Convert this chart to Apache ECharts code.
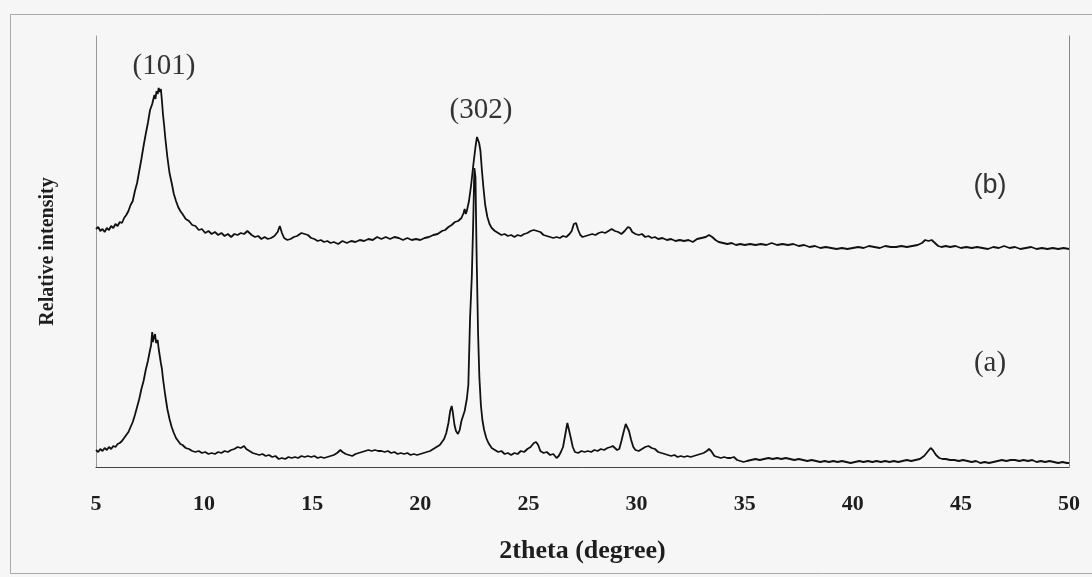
<!DOCTYPE html>
<html>
<head>
<meta charset="utf-8">
<script src="https://cdn.jsdelivr.net/npm/echarts@6/dist/echarts.min.js"></script>
<style>html,body{margin:0;padding:0;background:#f6f6f6;}#c{width:1092px;height:577px;}</style>
</head>
<body>
<div id="c"></div>
<script>
// [2theta (degree), relative intensity (arbitrary units)]
var patternB = [[5.0,238],[5.1,240],[5.2,236],[5.3,238],[5.4,235],[5.5,239],[5.6,237],[5.7,241],[5.8,239],[5.9,243],[6.0,241],[6.1,245],[6.2,244],[6.3,249],[6.4,252],[6.5,256],[6.6,262],[6.7,266],[6.8,276],[6.9,284],[7.0,296],[7.1,308],[7.2,321],[7.3,333],[7.4,344],[7.5,357],[7.6,363],[7.7,372],[7.75,368],[7.8,376],[7.85,373],[7.9,379],[7.95,375],[8.0,378],[8.05,366],[8.1,352],[8.15,342],[8.2,330],[8.3,310],[8.4,294],[8.5,284],[8.6,273],[8.7,266],[8.8,260],[8.9,256],[9.0,253],[9.15,248],[9.3,246],[9.45,242],[9.6,241],[9.75,237],[9.9,238],[10.05,234],[10.2,236],[10.35,233],[10.5,235],[10.65,232],[10.8,234],[10.95,231],[11.1,233],[11.25,230],[11.4,233],[11.55,232],[11.7,234],[11.85,233],[12.0,236],[12.1,234],[12.2,232],[12.35,230],[12.5,231],[12.65,228],[12.8,230],[12.95,228],[13.1,229],[13.25,231],[13.4,235],[13.5,241],[13.6,234],[13.7,229],[13.85,227],[14.0,228],[14.15,230],[14.3,231],[14.5,234],[14.65,233],[14.8,232],[14.95,229],[15.1,228],[15.25,226],[15.4,227],[15.55,225],[15.7,226],[15.85,224],[16.0,225],[16.2,223],[16.4,226],[16.6,224],[16.8,226],[17.0,225],[17.2,227],[17.4,226],[17.6,228],[17.8,227],[18.0,230],[18.2,228],[18.4,230],[18.6,228],[18.8,230],[19.0,229],[19.2,227],[19.4,229],[19.6,227],[19.8,228],[20.0,227],[20.2,229],[20.4,230],[20.6,232],[20.8,233],[21.0,236],[21.15,237],[21.3,240],[21.45,242],[21.6,245],[21.75,246],[21.9,249],[22.0,254],[22.05,258],[22.1,253],[22.15,256],[22.25,266],[22.35,282],[22.45,302],[22.55,320],[22.62,330],[22.68,331],[22.72,324],[22.78,316],[22.85,296],[22.92,279],[23.0,262],[23.1,250],[23.2,243],[23.3,239],[23.45,236],[23.6,234],[23.75,232],[23.9,233],[24.05,231],[24.2,232],[24.35,230],[24.5,232],[24.65,231],[24.8,233],[24.95,234],[25.1,236],[25.25,237],[25.4,236],[25.55,235],[25.7,232],[25.85,231],[26.0,230],[26.15,229],[26.3,230],[26.45,229],[26.6,231],[26.75,230],[26.9,233],[27.0,236],[27.1,243],[27.2,244],[27.3,237],[27.4,232],[27.5,230],[27.65,231],[27.8,232],[27.95,233],[28.1,232],[28.25,234],[28.4,235],[28.55,234],[28.7,236],[28.85,238],[29.0,236],[29.15,235],[29.3,233],[29.45,236],[29.6,240],[29.7,239],[29.8,235],[29.95,233],[30.1,232],[30.25,233],[30.4,230],[30.55,231],[30.7,229],[30.85,230],[31.0,228],[31.2,229],[31.4,227],[31.6,228],[31.8,226],[32.0,227],[32.2,226],[32.4,227],[32.6,225],[32.8,228],[33.0,229],[33.2,230],[33.35,232],[33.5,230],[33.65,227],[33.8,225],[34.0,224],[34.2,223],[34.4,224],[34.6,222],[34.8,223],[35.0,222],[35.25,223],[35.5,222],[35.75,223],[36.0,222],[36.25,224],[36.5,222],[36.75,223],[37.0,222],[37.25,223],[37.5,221],[37.75,222],[38.0,220],[38.25,221],[38.5,219],[38.75,220],[39.0,219],[39.25,218],[39.5,219],[39.75,218],[40.0,219],[40.25,220],[40.5,219],[40.75,221],[41.0,220],[41.25,219],[41.5,221],[41.75,220],[42.0,220],[42.25,221],[42.5,220],[42.75,221],[43.0,222],[43.2,224],[43.35,227],[43.5,226],[43.65,227],[43.8,224],[43.95,221],[44.1,220],[44.3,221],[44.5,220],[44.75,221],[45.0,219],[45.25,220],[45.5,219],[45.75,220],[46.0,219],[46.25,218],[46.5,220],[46.75,219],[47.0,221],[47.25,219],[47.5,220],[47.75,218],[48.0,219],[48.25,220],[48.5,218],[48.75,219],[49.0,218],[49.25,219],[49.5,218],[49.75,219],[50.0,218]];

var patternA = [[5.0,17],[5.1,15],[5.2,18],[5.3,16],[5.4,19],[5.5,17],[5.6,20],[5.7,18],[5.8,21],[5.9,20],[6.0,23],[6.1,24],[6.2,26],[6.3,29],[6.4,32],[6.5,35],[6.6,40],[6.7,45],[6.8,52],[6.9,60],[7.0,68],[7.1,78],[7.2,86],[7.3,97],[7.4,106],[7.5,117],[7.55,122],[7.6,135],[7.63,125],[7.68,130],[7.73,133],[7.78,124],[7.85,127],[7.9,118],[8.0,104],[8.05,98],[8.1,88],[8.2,72],[8.3,58],[8.4,48],[8.5,40],[8.6,34],[8.7,29],[8.8,26],[8.9,23],[9.0,22],[9.15,19],[9.3,18],[9.45,16],[9.6,15],[9.75,16],[9.9,14],[10.05,15],[10.2,13],[10.35,14],[10.5,13],[10.65,15],[10.8,14],[10.95,16],[11.1,15],[11.25,17],[11.4,18],[11.55,20],[11.7,19],[11.85,21],[11.95,18],[12.1,16],[12.25,14],[12.4,13],[12.55,12],[12.7,13],[12.85,11],[13.0,12],[13.15,10],[13.3,11],[13.45,8],[13.6,9],[13.75,8],[13.9,10],[14.05,9],[14.2,10],[14.35,9],[14.5,11],[14.65,10],[14.8,11],[14.95,10],[15.1,11],[15.25,9],[15.4,10],[15.55,9],[15.7,10],[15.85,11],[16.0,12],[16.15,14],[16.3,17],[16.4,15],[16.55,13],[16.7,12],[16.85,11],[17.0,13],[17.15,14],[17.3,15],[17.45,16],[17.6,17],[17.75,16],[17.9,17],[18.05,16],[18.2,16],[18.35,15],[18.5,16],[18.65,14],[18.8,15],[18.95,13],[19.1,14],[19.25,13],[19.4,14],[19.55,12],[19.7,13],[19.85,12],[20.0,13],[20.15,14],[20.3,15],[20.45,16],[20.6,18],[20.75,20],[20.9,22],[21.0,25],[21.1,28],[21.2,34],[21.3,44],[21.38,56],[21.45,61],[21.5,55],[21.58,42],[21.65,36],[21.74,33],[21.82,37],[21.9,46],[21.95,44],[22.05,56],[22.15,68],[22.22,82],[22.3,149],[22.38,190],[22.44,240],[22.5,299],[22.55,290],[22.6,215],[22.67,134],[22.73,90],[22.8,62],[22.87,47],[22.95,37],[23.05,29],[23.15,24],[23.3,19],[23.45,17],[23.6,15],[23.75,16],[23.9,13],[24.05,14],[24.2,12],[24.35,14],[24.5,13],[24.65,16],[24.8,15],[24.95,18],[25.1,20],[25.25,24],[25.35,25],[25.45,22],[25.55,16],[25.7,14],[25.85,15],[26.0,12],[26.15,13],[26.3,9],[26.4,11],[26.5,15],[26.6,20],[26.7,32],[26.8,44],[26.85,43],[26.95,30],[27.05,20],[27.15,15],[27.3,14],[27.45,16],[27.6,15],[27.75,16],[27.9,15],[28.05,17],[28.2,16],[28.35,18],[28.5,17],[28.65,19],[28.8,20],[28.9,21],[29.0,19],[29.1,17],[29.2,18],[29.3,26],[29.4,35],[29.5,43],[29.56,45],[29.65,36],[29.75,27],[29.85,20],[29.95,17],[30.1,16],[30.25,18],[30.4,20],[30.55,21],[30.7,19],[30.85,18],[31.0,15],[31.15,14],[31.3,13],[31.45,12],[31.6,11],[31.75,12],[31.9,10],[32.05,11],[32.2,10],[32.35,11],[32.5,10],[32.65,11],[32.8,12],[32.95,13],[33.1,14],[33.25,16],[33.35,18],[33.45,16],[33.6,11],[33.75,10],[33.9,9],[34.05,10],[34.2,9],[34.35,9],[34.5,10],[34.65,7],[34.8,6],[34.95,5],[35.1,6],[35.3,7],[35.5,8],[35.7,7],[35.9,8],[36.1,9],[36.3,8],[36.5,9],[36.7,8],[36.9,9],[37.1,8],[37.3,7],[37.5,8],[37.7,7],[37.9,6],[38.1,7],[38.3,6],[38.5,5],[38.7,6],[38.9,5],[39.1,6],[39.3,5],[39.5,6],[39.7,5],[39.9,4],[40.1,5],[40.3,6],[40.5,5],[40.7,6],[40.9,5],[41.1,6],[41.3,5],[41.5,6],[41.7,5],[41.9,6],[42.1,5],[42.3,6],[42.5,7],[42.7,6],[42.9,7],[43.1,8],[43.3,11],[43.45,15],[43.6,19],[43.7,17],[43.85,12],[44.0,9],[44.15,8],[44.3,8],[44.5,7],[44.7,7],[44.9,6],[45.1,7],[45.3,6],[45.5,5],[45.7,6],[45.9,4],[46.1,5],[46.3,4],[46.5,5],[46.7,6],[46.9,7],[47.1,6],[47.3,7],[47.5,7],[47.7,6],[47.9,7],[48.1,6],[48.3,7],[48.5,5],[48.7,6],[48.9,5],[49.1,6],[49.3,5],[49.5,4],[49.7,5],[49.9,4],[50.0,4]];

var xTicks = [5,10,15,20,25,30,35,40,45,50];
var peakLabels = ['(101)', '(302)'];
var curveLabels = ['(b)', '(a)'];

var chart = echarts.init(document.getElementById('c'), null, {renderer: 'canvas'});
var serif = '"Liberation Serif", "DejaVu Serif", serif';
chart.setOption({
  animation: false,
  backgroundColor: '#f6f6f6',
  grid: {left: 96, right: 23, top: 36, bottom: 110},
  xAxis: [{
    type: 'value', min: xTicks[0], max: xTicks[xTicks.length - 1], interval: 5, position: 'bottom',
    axisLine: {show: true, lineStyle: {color: '#c4c4c4', type: 'dotted', width: 1}},
    axisTick: {show: false}, splitLine: {show: false},
    axisLabel: {margin: 26, color: '#1e1e1e', fontFamily: serif, fontWeight: 'bold', fontSize: 22},
    name: '2theta (degree)', nameLocation: 'middle', nameGap: 71,
    nameTextStyle: {color: '#1e1e1e', fontFamily: serif, fontWeight: 'bold', fontSize: 26}
  }, {
    type: 'value', min: 5, max: 50, position: 'top',
    axisLine: {show: true, lineStyle: {color: '#444', width: 1}},
    axisTick: {show: false}, axisLabel: {show: false}, splitLine: {show: false}
  }],
  yAxis: [{
    type: 'value', min: 0, max: 431, position: 'left',
    axisLine: {show: true, lineStyle: {color: '#999', width: 1}},
    axisTick: {show: false}, axisLabel: {show: false}, splitLine: {show: false},
    name: 'Relative intensity', nameLocation: 'middle', nameGap: 38,
    nameTextStyle: {color: '#1e1e1e', fontFamily: serif, fontWeight: 'bold', fontSize: 20}
  }, {
    type: 'value', min: 0, max: 431, position: 'right',
    axisLine: {show: true, lineStyle: {color: '#888', width: 1}},
    axisTick: {show: false}, axisLabel: {show: false}, splitLine: {show: false}
  }],
  series: [{
    name: '(b)', type: 'line', data: patternB, showSymbol: false,
    lineStyle: {color: '#111', width: 1.8}
  }, {
    name: '(a)', type: 'line', data: patternA, showSymbol: false,
    lineStyle: {color: '#111', width: 1.8}
  }],
  graphic: [
    {type: 'rect', shape: {x: 10.5, y: 14.5, width: 1100, height: 559}, style: {fill: 'none', stroke: '#aaa', lineWidth: 1}, silent: true, z: -1},
    {type: 'text', x: 164, y: 66, style: {text: peakLabels[0], fill: '#333', font: '29px ' + serif, textAlign: 'center', textVerticalAlign: 'middle'}},
    {type: 'text', x: 481, y: 110, style: {text: peakLabels[1], fill: '#333', font: '29px ' + serif, textAlign: 'center', textVerticalAlign: 'middle'}},
    {type: 'text', x: 990, y: 186, style: {text: curveLabels[0], fill: '#333', font: '27px "Liberation Sans", sans-serif', textAlign: 'center', textVerticalAlign: 'middle'}},
    {type: 'text', x: 990, y: 363, style: {text: curveLabels[1], fill: '#333', font: '29px ' + serif, textAlign: 'center', textVerticalAlign: 'middle'}}
  ]
});
</script>
</body>
</html>
